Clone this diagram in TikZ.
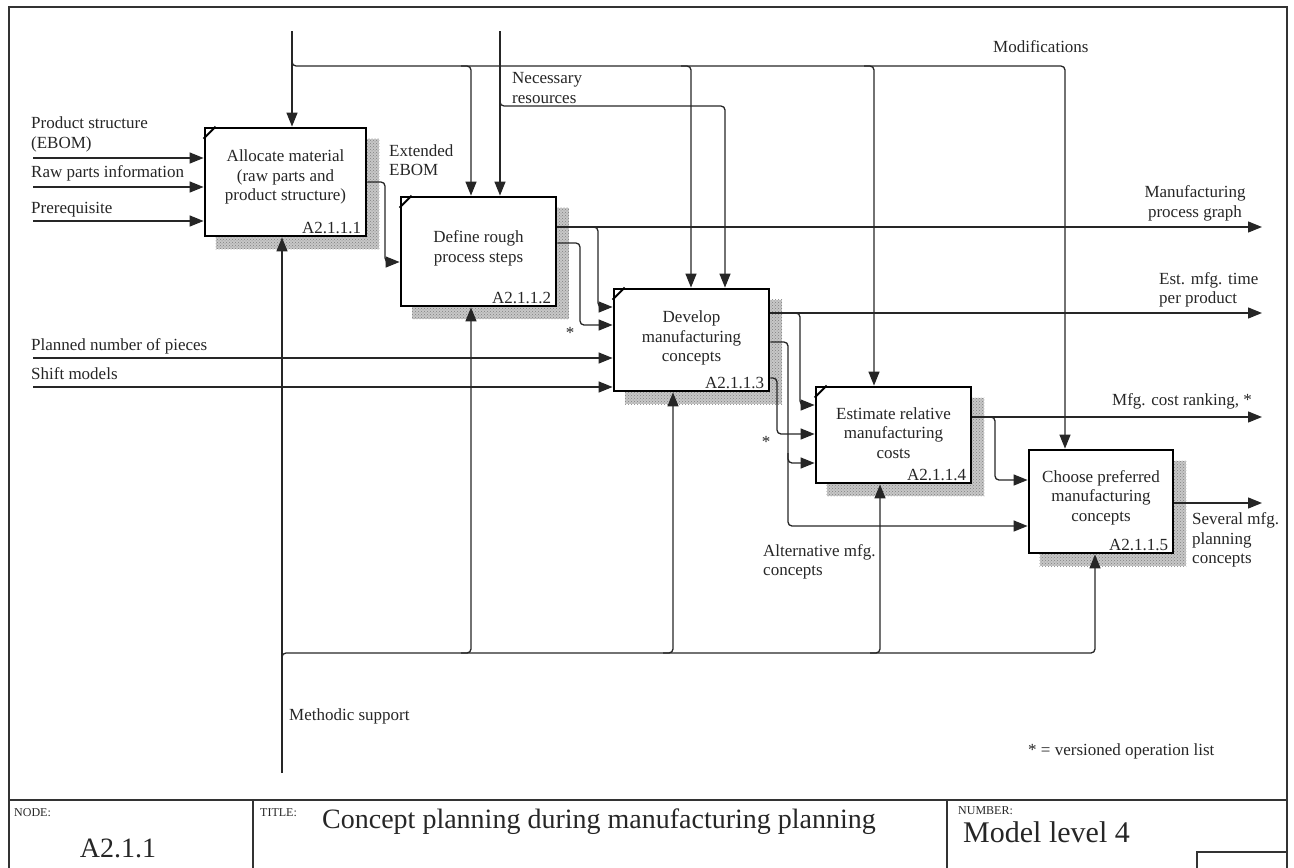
\documentclass[tikz,border=0pt]{standalone}
\usepackage{fontspec}
\setmainfont{Liberation Serif}
\usetikzlibrary{arrows.meta,calc,patterns}
\pgfdeclarelayer{background}
\pgfsetlayers{background,main}
\begin{document}
\begin{tikzpicture}[x=1pt,y=-1pt,
  txt/.style={font=\fontsize{17}{19.5}\selectfont, text=black!85, inner sep=0pt},
  small/.style={font=\fontsize{12}{14}\selectfont, text=black!85, inner sep=0pt},
  big/.style={font=\fontsize{28}{32}\selectfont, text=black!85, inner sep=0pt},
  pbox/.style={draw=black, line width=2.8pt, fill=white, inner sep=0pt},
  pid/.style={txt, anchor=south east},
  conn/.style={draw=black!85, line width=1.3pt, rounded corners=4pt},
  arr/.style={-{Triangle[length=14pt,width=11pt]}},
  frame/.style={draw=black!80, line width=1.6pt},
  shade/.style={fill=black!22},
  shadetex/.style={pattern=crosshatch dots, pattern color=black!50}
]
\useasboundingbox (0,0) rectangle (1294,868);

% ---- frame and title block
\draw[frame] (9,868) -- (9,7) -- (1287,7) -- (1287,868);
\draw[frame] (9,800) -- (1287,800);
\draw[frame] (253,800) -- (253,868);
\draw[frame] (947,800) -- (947,868);
\draw[frame] (1197,868) -- (1197,852) -- (1287,852);
\node[small, anchor=west] (tnode) at (14,813) {NODE:};
\node[big, anchor=center] (tnodeval) at (118,848) {A2.1.1};
\node[small, anchor=west] (ttitle) at (260,813) {TITLE:};
\node[big, anchor=west] (ttitleval) at (322,822) {Concept planning during manufacturing planning};
\node[small, anchor=west] (tnum) at (958,811) {NUMBER:};
\node[big, anchor=west, font=\fontsize{30}{34}\selectfont] (tnumval) at (963,832) {Model level 4};

% ---- activity boxes
\node[pbox, minimum width=161pt, minimum height=108pt] (b1) at (285.5,182) {};
\node[pbox, minimum width=155pt, minimum height=109pt] (b2) at (478.5,251.5) {};
\node[pbox, minimum width=155pt, minimum height=102pt] (b3) at (691.5,340) {};
\node[pbox, minimum width=155pt, minimum height=96pt]  (b4) at (893.5,435) {};
\node[pbox, minimum width=144pt, minimum height=103pt] (b5) at (1101,501.5) {};

\begin{pgfonlayer}{background}
  \foreach \b in {b1,b2,b3,b4,b5}{
    \fill[shade] ($(\b.south west)+(12,12)$) rectangle ($(\b.north east)+(12,12)$);
    \fill[shadetex] ($(\b.south west)+(12,12)$) rectangle ($(\b.north east)+(12,12)$);
  }
\end{pgfonlayer}

% corner marks
\foreach \b in {b1,b2,b3,b4}{
  \draw[line width=2pt, black] ($(\b.north west)+(0,12)$) -- ($(\b.north west)+(12,0)$);
}

% box texts
\node[txt, align=center] (t1) at ($(b1.center)+(0,-5)$) {Allocate material\\(raw parts and\\product structure)};
\node[pid] (id1) at ($(b1.south east)+(-6,-3)$) {A2.1.1.1};
\node[txt, align=center] (t2) at ($(b2.center)+(0,-3)$) {Define rough\\process steps};
\node[pid] (id2) at ($(b2.south east)+(-6,-3)$) {A2.1.1.2};
\node[txt, align=center] (t3) at ($(b3.center)+(0,-2)$) {Develop\\manufacturing\\concepts};
\node[pid] (id3) at ($(b3.south east)+(-6,-3)$) {A2.1.1.3};
\node[txt, align=center] (t4) at ($(b4.center)+(0,-2)$) {Estimate relative\\manufacturing\\costs};
\node[pid] (id4) at ($(b4.south east)+(-6,-3)$) {A2.1.1.4};
\node[txt, align=center] (t5) at ($(b5.center)+(0,-4)$) {Choose preferred\\manufacturing\\concepts};
\node[pid] (id5) at ($(b5.south east)+(-6,-3)$) {A2.1.1.5};

% ---- free connector ends
\coordinate (ctl1) at (292,31);
\coordinate (ctl2) at (500,31);
\coordinate (mec)  at (282,773);
\coordinate (in1) at (33,158);
\coordinate (in2) at (33,187);
\coordinate (in3) at (33,221);
\coordinate (in4) at (33,358);
\coordinate (in5) at (33,387);
\coordinate (o1) at (1262,227);
\coordinate (o2) at (1262,313);
\coordinate (o3) at (1262,417);
\coordinate (o4) at (1262,503);

% ---- controls
\draw[conn,arr] (ctl1) -- (ctl1 |- b1.north);
\draw[conn,arr] (292,52) -- (292,66) -- (1065,66) -- (1065,0 |- b5.north);
\draw[conn,arr] (461,66) -- (471,66) -- (471,0 |- b2.north);
\draw[conn,arr] (681,66) -- (691,66) -- (691,0 |- b3.north);
\draw[conn,arr] (864,66) -- (874,66) -- (874,0 |- b4.north);
\draw[conn,arr] (ctl2) -- (ctl2 |- b2.north);
\draw[conn,arr] (500,94) -- (500,106) -- (725,106) -- (725,0 |- b3.north);

% ---- mechanisms
\draw[conn,arr] (mec) -- (mec |- b1.south);
\draw[conn,arr] (282,665) -- (282,653) -- (1095,653) -- (1095,0 |- b5.south);
\draw[conn,arr] (461,653) -- (471,653) -- (471,0 |- b2.south);
\draw[conn,arr] (663,653) -- (673,653) -- (673,0 |- b3.south);
\draw[conn,arr] (870,653) -- (880,653) -- (880,0 |- b4.south);

% ---- inputs
\draw[conn,arr] (in1) -- (in1 -| b1.west);
\draw[conn,arr] (in2) -- (in2 -| b1.west);
\draw[conn,arr] (in3) -- (in3 -| b1.west);
\draw[conn,arr] (in4) -- (in4 -| b3.west);
\draw[conn,arr] (in5) -- (in5 -| b3.west);

% ---- outputs and internal flows
\draw[conn,arr] (b1.east |- 0,182) -- (385,182) -- (385,262) -- (b2.west |- 0,262);
\draw[conn,arr] (b2.east |- o1) -- (o1);
\draw[conn,arr] (588,227) -- (598,227) -- (598,307) -- (b3.west |- 0,307);
\draw[conn,arr] (b2.east |- 0,243) -- (580,243) -- (580,325) -- (b3.west |- 0,325);
\draw[conn,arr] (b3.east |- o2) -- (o2);
\draw[conn,arr] (790,313) -- (800,313) -- (800,405) -- (b4.west |- 0,405);
\draw[conn,arr] (b3.east |- 0,342) -- (788,342) -- (788,526) -- (b5.west |- 0,526);
\draw[conn,arr] (788,453) -- (788,463) -- (b4.west |- 0,463);
\draw[conn,arr] (b3.east |- 0,378) -- (777,378) -- (777,434) -- (b4.west |- 0,434);
\draw[conn,arr] (b4.east |- o3) -- (o3);
\draw[conn,arr] (985,417) -- (995,417) -- (995,480) -- (b5.west |- 0,480);
\draw[conn,arr] (b5.east |- o4) -- (o4);

% ---- labels
\node[txt, anchor=west, align=left] (l1) at (31,134.5) {Product structure\\(EBOM)};
\node[txt, anchor=west] (l2) at (31,173) {Raw parts information};
\node[txt, anchor=west] (l3) at (31,210) {Prerequisite};
\node[txt, anchor=west] (l4) at (31,346) {Planned number of pieces};
\node[txt, anchor=west] (l5) at (31,374) {Shift models};
\node[txt, anchor=west, align=left] (l6) at (389,160) {Extended\\EBOM};
\node[txt, anchor=west, align=left] (l7) at (512,88) {Necessary\\resources};
\node[txt, anchor=west] (l8) at (993,47) {Modifications};
\node[txt, align=center] (l9) at (1195,203.5) {Manufacturing\\process graph};
\node[txt, anchor=west, align=left] (l10) at (1159,290) {Est. mfg. time\\per product};
\node[txt, anchor=west] (l11) at (1112,401) {Mfg. cost ranking, *};
\node[txt, anchor=west, align=left] (l12) at (1192,540) {Several mfg.\\planning\\concepts};
\node[txt, anchor=west, align=left] (l13) at (763,562) {Alternative mfg.\\concepts};
\node[txt, anchor=west] (l14) at (289,716) {Methodic support};
\node[txt] (s1) at (570,333) {*};
\node[txt] (s2) at (766,442) {*};
\node[txt, anchor=west] (l15) at (1028,751) {* = versioned operation list};
\end{tikzpicture}
\end{document}
